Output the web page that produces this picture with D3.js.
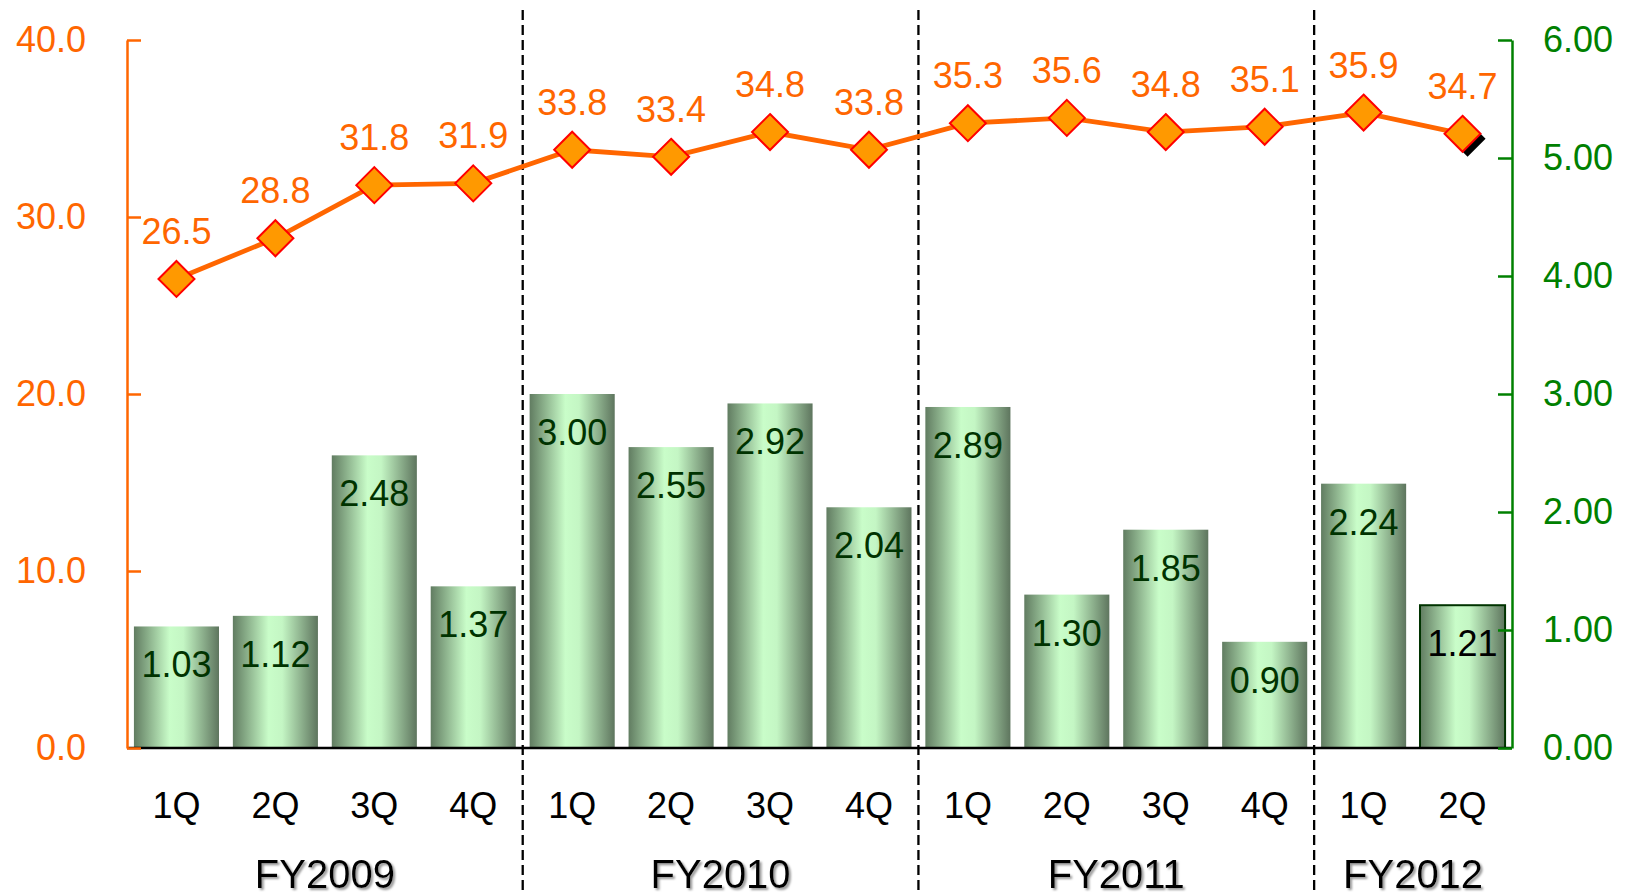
<!DOCTYPE html>
<html>
<meta charset="utf-8">
<style>
  body { margin: 0; background: #fff; }
  svg { width: 1631px; height: 895px; display: block; }
  text { font-family: "Liberation Sans", Arial, sans-serif; }
  .axis text { font-size: 36px; }
</style>
<body>
  <svg></svg>
</body>
<script src="https://cdn.jsdelivr.net/npm/d3@7"></script>
<script>
  var quarters = ["1Q","2Q","3Q","4Q","1Q","2Q","3Q","4Q","1Q","2Q","3Q","4Q","1Q","2Q"];
  var years = ["FY2009","FY2010","FY2011","FY2012"];
  var yearSizes = [4, 4, 4, 2];
  var barValues = [1.03, 1.12, 2.48, 1.37, 3.00, 2.55, 2.92, 2.04, 2.89, 1.30, 1.85, 0.90, 2.24, 1.21];
  var lineValues = [26.5, 28.8, 31.8, 31.9, 33.8, 33.4, 34.8, 33.8, 35.3, 35.6, 34.8, 35.1, 35.9, 34.7];
  var leftTicks = [0, 10, 20, 30, 40];
  var rightTicks = [0, 1, 2, 3, 4, 5, 6];

  var plotLeft = 127, plotRight = 1512, plotTop = 40, plotBottom = 748;
  var svg = d3.select("svg");

  var n = quarters.length;
  var xScale = d3.scaleBand().domain(d3.range(n)).range([plotLeft, plotRight]).paddingInner(0.14).paddingOuter(0.07);
  var yLeft = d3.scaleLinear().domain([0, 40]).range([plotBottom, plotTop]);
  var yRight = d3.scaleLinear().domain([0, 6]).range([plotBottom, plotTop]);
  var step = xScale.step();
  var cx = function(i){ return xScale(i) + xScale.bandwidth() / 2; };
  var bw = xScale.bandwidth();

  // gradient for bars
  var defs = svg.append("defs");
  var grad = defs.append("linearGradient").attr("id", "barGrad").attr("x1", "0").attr("x2", "1").attr("y1", "0").attr("y2", "0");
  grad.append("stop").attr("offset", "0%").attr("stop-color", "#617c61");
  grad.append("stop").attr("offset", "42%").attr("stop-color", "#c9fdc9");
  grad.append("stop").attr("offset", "58%").attr("stop-color", "#c4f6c4");
  grad.append("stop").attr("offset", "100%").attr("stop-color", "#5e755e");

  var shadow = defs.append("filter").attr("id", "txtShadow");
  shadow.append("feDropShadow").attr("dx", 2).attr("dy", 2).attr("stdDeviation", 0.8).attr("flood-color", "#999");

  //BARS
  svg.selectAll("rect.bar").data(barValues).enter()
    .append("rect")
    .attr("class", "bar")
    .attr("x", function(d, i){ return xScale(i); })
    .attr("y", function(d){ return yRight(d); })
    .attr("width", bw)
    .attr("height", function(d){ return plotBottom - yRight(d); })
    .attr("fill", "url(#barGrad)")
    .attr("stroke", function(d, i){ return i == n - 1 ? "#003300" : "none"; })
    .attr("stroke-width", 2);

  svg.selectAll("text.barlabel").data(barValues).enter()
    .append("text")
    .attr("class", "barlabel")
    .attr("x", function(d, i){ return cx(i); })
    .attr("y", function(d){ return yRight(d) + 51; })
    .attr("text-anchor", "middle")
    .attr("font-size", 36)
    .attr("fill", function(d, i){ return i == n - 1 ? "#000" : "#003300"; })
    .text(function(d){ return d.toFixed(2); });

  //BASELINE
  svg.append("line").attr("x1", plotLeft).attr("x2", plotRight).attr("y1", plotBottom).attr("y2", plotBottom)
    .attr("stroke", "#000").attr("stroke-width", 2.5);

  //YEAR LABELS + DASHED SEPARATORS
  var cum = 0;
  yearSizes.forEach(function(sz, k){
    var start = cum;
    cum += sz;
    var xs = xScale(start) - step * xScale.paddingInner() / 2;
    var xe = xScale(cum - 1) + bw + step * xScale.paddingInner() / 2;
    svg.append("text")
      .attr("x", (xs + xe) / 2)
      .attr("y", 888)
      .attr("text-anchor", "middle")
      .attr("font-size", 40)
      .attr("fill", "#000")
      .attr("filter", "url(#txtShadow)")
      .text(years[k]);
    if (k < yearSizes.length - 1) {
      svg.append("line")
        .attr("x1", xe).attr("x2", xe)
        .attr("y1", 10).attr("y2", 895)
        .attr("stroke", "#000").attr("stroke-width", 2.3)
        .attr("stroke-dasharray", "10,5");
    }
  });

  //QUARTER LABELS
  svg.selectAll("text.q").data(quarters).enter()
    .append("text")
    .attr("class", "q")
    .attr("x", function(d, i){ return cx(i); })
    .attr("y", 818)
    .attr("text-anchor", "middle")
    .attr("font-size", 36)
    .text(function(d){ return d; });

  //AXES
  var leftAxis = d3.axisLeft(yLeft).tickValues(leftTicks).tickFormat(d3.format(".1f"))
    .tickSizeInner(-14).tickSizeOuter(0).tickPadding(41);
  var gl = svg.append("g").attr("class", "axis").attr("transform", "translate(" + plotLeft + ",0)").call(leftAxis);
  gl.selectAll("path, line").attr("stroke", "#ff6600").attr("stroke-width", 2.5);
  gl.selectAll("text").attr("fill", "#ff6600");

  var rightAxis = d3.axisRight(yRight).tickValues(rightTicks).tickFormat(d3.format(".2f"))
    .tickSizeInner(-14).tickSizeOuter(0).tickPadding(31);
  var gr = svg.append("g").attr("class", "axis").attr("transform", "translate(" + plotRight + ",0)").call(rightAxis);
  gr.selectAll("path, line").attr("stroke", "#008000").attr("stroke-width", 2.5);
  gr.selectAll("text").attr("fill", "#008000");

  //LINE
  var line = d3.line().x(function(d, i){ return cx(i); }).y(function(d){ return yLeft(d); });
  svg.append("path").datum(lineValues).attr("d", line)
    .attr("fill", "none").attr("stroke", "#ff6600").attr("stroke-width", 4.8);

  var diamond = function(x, y, r){ return "M" + x + "," + (y - r) + "L" + (x + r) + "," + y + "L" + x + "," + (y + r) + "L" + (x - r) + "," + y + "Z"; };
  var last = n - 1;
  svg.append("path").attr("d", diamond(cx(last) + 5, yLeft(lineValues[last]) + 5, 18)).attr("fill", "#000");

  svg.selectAll("path.mark").data(lineValues).enter()
    .append("path")
    .attr("class", "mark")
    .attr("d", function(d, i){ return diamond(cx(i), yLeft(d), 18); })
    .attr("fill", "#ff9900").attr("stroke", "#ff0000").attr("stroke-width", 2);

  svg.selectAll("text.linelabel").data(lineValues).enter()
    .append("text")
    .attr("class", "linelabel")
    .attr("x", function(d, i){ return cx(i); })
    .attr("y", function(d){ return yLeft(d) - 35; })
    .attr("text-anchor", "middle")
    .attr("font-size", 36)
    .attr("fill", "#ff6600")
    .text(function(d){ return d.toFixed(1); });
</script>
</html>
